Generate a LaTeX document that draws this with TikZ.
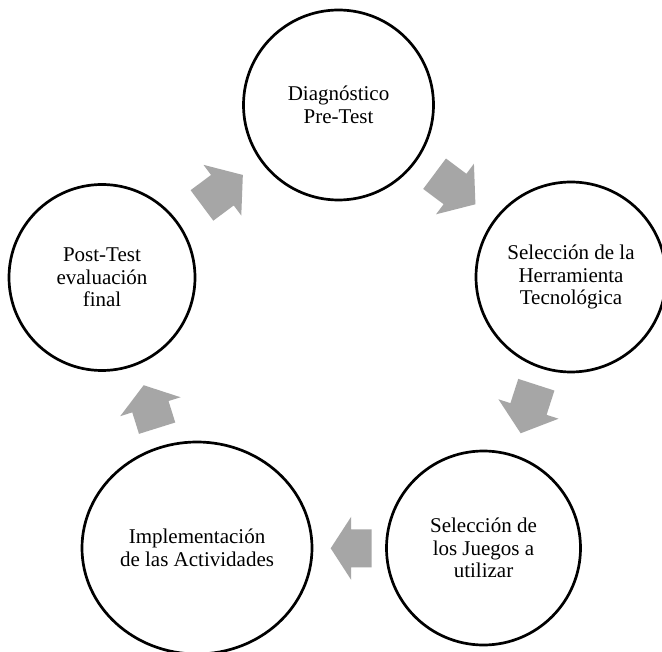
\documentclass[tikz,border=0pt]{standalone}
\usepackage{fontspec}
\setmainfont{Liberation Serif}
\usetikzlibrary{shapes.geometric}
\definecolor{arrowgray}{RGB}{166,166,166}
% block arrow: #1 centre, #2 angle, #3 total length
\newcommand\blkarrow[3]{%
  \fill[blk, shift={#1}, rotate=#2]
    (-#3/2,-19) -- (0,-19) -- (0,-31.6) -- (#3/2,0) -- (0,31.6) -- (0,19) -- (-#3/2,19) -- cycle;
}
\begin{document}
\begin{tikzpicture}[x=1pt,y=1pt,
  stage/.style={circle, draw=black, line width=2.7pt, fill=white, inner sep=0pt,
    align=center, font=\fontsize{21}{22.5}\selectfont, text=black},
  blk/.style={fill=arrowgray, draw=none}]
\useasboundingbox (0,0) rectangle (662,-652);
\clip (0,0) rectangle (662,-652);
\fill[white] (0,0) rectangle (662,-652);

\node[stage, minimum size=190pt] (diag) at (338.5,-105) {Diagnóstico\\Pre-Test};
\node[stage, minimum size=190pt] (herr) at (571,-277) {Selección de la\\Herramienta\\Tecnológica};
\node[stage, minimum size=194pt] (jueg) at (483.5,-548) {Selección de\\los Juegos a\\utilizar};
\node[stage, ellipse, minimum width=230pt, minimum height=212pt] (impl) at (197,-548) {Implementación\\de las Actividades};
\node[stage, minimum size=186pt] (post) at (102,-277.5) {Post-Test\\evaluación\\final};

\blkarrow{(222.4,-190.2)}{36.7}{51}
\blkarrow{(455,-189)}{-36.8}{51}
\blkarrow{(528.5,-409)}{-107.9}{51}
\blkarrow{(351.2,-548.3)}{180}{41}
\blkarrow{(150.4,-406.7)}{107.4}{45}
\end{tikzpicture}
\end{document}
